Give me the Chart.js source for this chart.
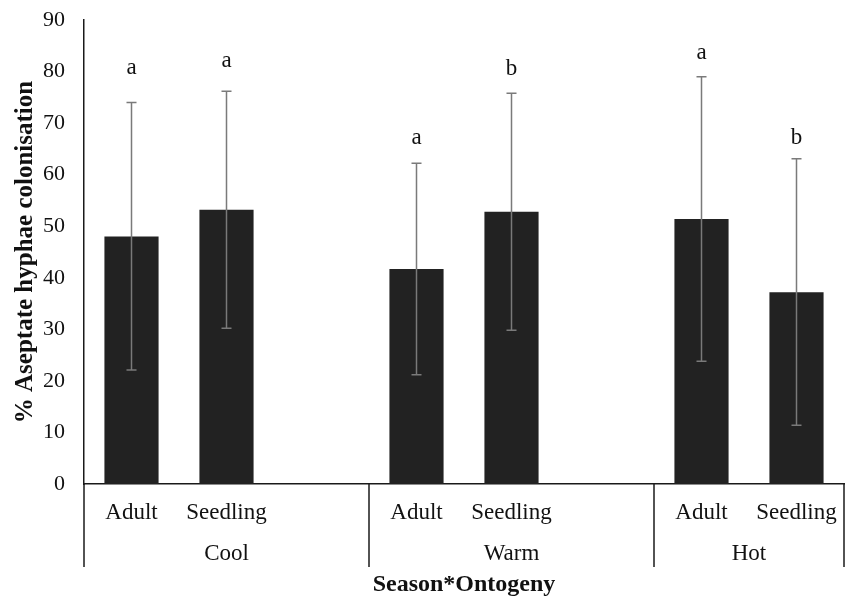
<!DOCTYPE html>
<html><head><meta charset="utf-8">
<script src="https://cdn.jsdelivr.net/npm/chart.js@4/dist/chart.umd.min.js"></script>
<style>html,body{margin:0;padding:0;background:#fff;}canvas{display:block;}</style>
</head><body>
<canvas id="c" width="848" height="598"></canvas>
<script>
// ---- data ----
const categories = ['Adult', 'Seedling', '', 'Adult', 'Seedling', '', 'Adult', 'Seedling'];
const seasons = ['Cool', 'Warm', 'Hot'];
const seasonSpans = [[0, 2], [3, 5], [6, 7]];
const means   = [48.0, 53.2, null, 41.7, 52.8, null, 51.4, 37.2];
const errLow  = [22.1, 30.2, null, 21.2, 29.8, null, 23.8, 11.4];
const errHigh = [74.0, 76.2, null, 62.2, 75.8, null, 79.0, 63.1];
const letters = ['a', 'a', '', 'a', 'b', '', 'a', 'b'];
const letterLevels = [79.6, 80.9, null, 65.9, 79.3, null, 82.4, 65.9];
const yMin = 0, yMax = 90, yStep = 10;

const FONT = '"Liberation Serif", "Times New Roman", serif';

const overlay = {
  id: 'overlay',
  afterDatasetsDraw(chart) {
    const { ctx, scales: { x, y }, chartArea } = chart;
    ctx.save();
    // error bars
    ctx.strokeStyle = '#7a7a7a';
    ctx.lineWidth = 1.5;
    means.forEach((m, i) => {
      if (m == null) return;
      const px = x.getPixelForValue(i);
      const yl = y.getPixelForValue(errLow[i]);
      const yh = y.getPixelForValue(errHigh[i]);
      ctx.beginPath();
      ctx.moveTo(px, yl); ctx.lineTo(px, yh);
      ctx.moveTo(px - 5, yh); ctx.lineTo(px + 5, yh);
      ctx.moveTo(px - 5, yl); ctx.lineTo(px + 5, yl);
      ctx.stroke();
    });
    // significance letters
    ctx.fillStyle = '#111';
    ctx.font = '23px ' + FONT;
    ctx.textAlign = 'center';
    ctx.textBaseline = 'alphabetic';
    letters.forEach((t, i) => {
      if (!t) return;
      ctx.fillText(t, x.getPixelForValue(i), y.getPixelForValue(letterLevels[i]));
    });
    // group separators and season labels
    const half = (x.getPixelForValue(1) - x.getPixelForValue(0)) / 2;
    const yTop = chartArea.bottom;
    const yBot = 567;
    ctx.strokeStyle = '#1a1a1a';
    ctx.lineWidth = 1.5;
    const bounds = new Set();
    seasonSpans.forEach(([s, e]) => {
      bounds.add(Math.round(x.getPixelForValue(s) - half));
      bounds.add(Math.round(x.getPixelForValue(e) + half));
    });
    bounds.forEach(bx => {
      ctx.beginPath(); ctx.moveTo(bx, yTop); ctx.lineTo(bx, yBot); ctx.stroke();
    });
    ctx.textBaseline = 'middle';
    seasons.forEach((name, k) => {
      const [s, e] = seasonSpans[k];
      const cx = (x.getPixelForValue(s) + x.getPixelForValue(e)) / 2;
      ctx.fillText(name, cx, 554);
    });
    ctx.restore();
  }
};

new Chart(document.getElementById('c'), {
  type: 'bar',
  data: {
    labels: categories,
    datasets: [{
      data: means,
      backgroundColor: '#222222',
      borderWidth: 0,
      barPercentage: 0.57,
      categoryPercentage: 1.0
    }]
  },
  options: {
    responsive: false,
    animation: false,
    devicePixelRatio: 1,
    layout: { padding: { left: 0, right: 4, top: 20, bottom: 0 } },
    plugins: { legend: { display: false }, tooltip: { enabled: false } },
    scales: {
      x: {
        type: 'category',
        grid: { display: false, drawTicks: false },
        border: { display: true, color: '#1a1a1a', width: 1.5 },
        ticks: {
          autoSkip: false, maxRotation: 0, minRotation: 0, padding: 15,
          color: '#111', font: { family: FONT, size: 23 }
        },
        title: {
          display: true, text: 'Season*Ontogeny', color: '#111',
          font: { family: FONT, size: 24, weight: 'bold', lineHeight: 1.1 },
          padding: { top: 0, bottom: 0 }
        },
        afterFit(scale) {
          scale.height = 114;
          scale.paddingLeft = 0; scale.paddingRight = 0;
        }
      },
      y: {
        min: yMin, max: yMax,
        grid: { display: false, drawTicks: false },
        border: { display: true, color: '#1a1a1a', width: 1.5 },
        ticks: {
          stepSize: yStep, padding: 19, color: '#111',
          font: { family: FONT, size: 22 }
        },
        title: {
          display: true, text: '% Aseptate hyphae colonisation', color: '#111',
          font: { family: FONT, size: 25, weight: 'bold', lineHeight: 1.2 },
          padding: { top: 11, bottom: 0 }
        },
        afterFit(scale) {
          scale.width = 84;
          scale.paddingTop = 0; scale.paddingBottom = 0;
        }
      }
    }
  },
  plugins: [overlay]
});
</script>
</body></html>
